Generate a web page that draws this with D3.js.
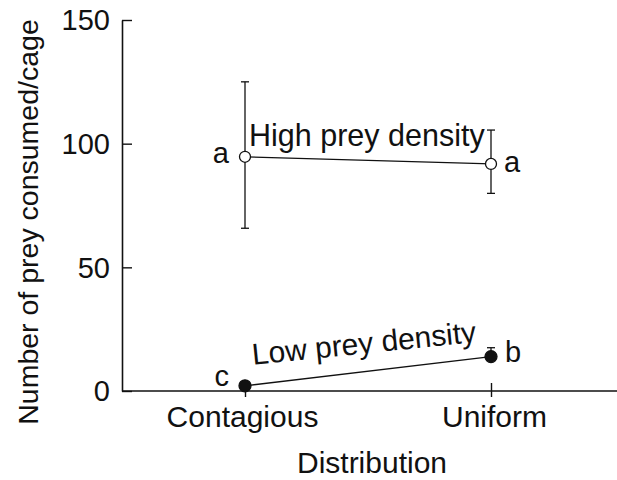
<!DOCTYPE html>
<html>
<head>
<meta charset="utf-8">
<script src="https://cdn.jsdelivr.net/npm/d3@7"></script>
<style>
  body { margin: 0; background: #fff; }
  svg { display: block; }
  text { font-family: "Liberation Sans", Arial, Helvetica, sans-serif; fill: #111; }
</style>
</head>
<body>
<script>
var distributions = ["Contagious", "Uniform"];
var yTicks = [0, 50, 100, 150];

// high prey density (open circles)
var highMean = [94.7, 91.8];
var highUpper = [125, 105.5];
var highLower = [65.8, 79.9];
var highLetters = ["a", "a"];

// low prey density (filled circles), only the upper bar shows
var lowMean = [2.1, 13.9];
var lowUpper = [2.6, 17.5];
var lowLower = [2.1, 13.9];
var lowLetters = ["c", "b"];

var w = 617, h = 480;
var plotLeft = 122, plotTop = 20, plotBottom = 391;

var svg = d3.select("body").append("svg")
    .attr("width", w)
    .attr("height", h);

var x = d3.scalePoint()
    .domain(distributions)
    .range([plotLeft, 614])
    .padding(0.5);

var y = d3.scaleLinear()
    .domain([0, 150])
    .range([plotBottom, plotTop]);

// y axis, ticks pointing into the plot
var yAxis = svg.append("g")
    .attr("transform", "translate(" + plotLeft + ",0)")
    .call(d3.axisLeft(y).tickValues(yTicks).tickSizeInner(-10).tickSizeOuter(0).tickPadding(12));
yAxis.select(".domain").attr("stroke", "#111").attr("stroke-width", 1.6);
yAxis.selectAll(".tick line").attr("stroke", "#111").attr("stroke-width", 1.4);
yAxis.selectAll(".tick text")
    .attr("font-size", 29)
    .attr("dy", "0.34em")
    .style("fill", "#111");

// x axis
var xAxis = svg.append("g")
    .attr("transform", "translate(0," + plotBottom + ")")
    .call(d3.axisBottom(x).tickSizeInner(6).tickSizeOuter(0).tickPadding(12));
xAxis.select(".domain")
    .attr("d", "M" + plotLeft + ",0H" + w)
    .attr("stroke", "#111").attr("stroke-width", 1.6);
xAxis.selectAll(".tick line").attr("y1", -8).attr("stroke", "#111").attr("stroke-width", 1.4);
xAxis.selectAll(".tick text")
    .attr("font-size", 30)
    .attr("y", 36)
    .attr("dy", 0)
    .attr("dx", function (d, i) { return i === 0 ? -3 : 3; })
    .style("fill", "#111");

// axis titles
svg.append("text")
    .attr("transform", "translate(38," + 222 + ") rotate(-90)")
    .attr("text-anchor", "middle")
    .attr("font-size", 28.5)
    .text("Number of prey consumed/cage");

svg.append("text")
    .attr("x", 372)
    .attr("y", 473)
    .attr("text-anchor", "middle")
    .attr("font-size", 30)
    .text("Distribution");

function series(mean, upper, lower, filled) {
    var pts = distributions.map(function (d, i) {
        return { key: d, m: mean[i], hi: upper[i], lo: lower[i] };
    });
    var g = svg.append("g");

    g.append("path")
        .datum(pts)
        .attr("fill", "none")
        .attr("stroke", "#111")
        .attr("stroke-width", 1.3)
        .attr("d", d3.line()
            .x(function (d) { return x(d.key); })
            .y(function (d) { return y(d.m); }));

    var eb = g.selectAll(".err")
        .data(pts)
        .enter().append("g");
    eb.append("line")
        .attr("x1", function (d) { return x(d.key); })
        .attr("x2", function (d) { return x(d.key); })
        .attr("y1", function (d) { return y(d.hi); })
        .attr("y2", function (d) { return y(d.lo); })
        .attr("stroke", "#111").attr("stroke-width", 1.3);
    ["hi", "lo"].forEach(function (k) {
        eb.append("line")
            .attr("x1", function (d) { return x(d.key) - 4; })
            .attr("x2", function (d) { return x(d.key) + 4; })
            .attr("y1", function (d) { return y(d[k]); })
            .attr("y2", function (d) { return y(d[k]); })
            .attr("stroke", "#111").attr("stroke-width", 1.3);
    });

    g.selectAll("circle")
        .data(pts)
        .enter().append("circle")
        .attr("cx", function (d) { return x(d.key); })
        .attr("cy", function (d) { return y(d.m); })
        .attr("r", filled ? 6 : 5.5)
        .attr("fill", filled ? "#111" : "#fff")
        .attr("stroke", "#111")
        .attr("stroke-width", 1.3);
    return pts;
}

series(highMean, highUpper, highLower, false);
series(lowMean, lowUpper, lowLower, true);

// significance letters
function letter(txt, key, val, dx, dy, anchor) {
    svg.append("text")
        .attr("x", x(key) + dx)
        .attr("y", y(val) + dy)
        .attr("text-anchor", anchor)
        .attr("font-size", 29)
        .text(txt);
}
letter(highLetters[0], distributions[0], highMean[0], -16, 6, "end");
letter(highLetters[1], distributions[1], highMean[1], 13, 8, "start");
letter(lowLetters[0], distributions[0], lowMean[0], -16, 0, "end");
letter(lowLetters[1], distributions[1], lowMean[1], 14, 5, "start");

// series labels
svg.append("text")
    .attr("x", x(distributions[0]) + 4)
    .attr("y", y(highMean[0]) - 11)
    .attr("font-size", 30.5)
    .text("High prey density");

var ang = Math.atan2(y(lowMean[1]) - y(lowMean[0]), x(distributions[1]) - x(distributions[0])) * 180 / Math.PI;
svg.append("text")
    .attr("transform", "translate(" + (x(distributions[0]) + 8) + "," + (y(lowMean[0]) - 21) + ") rotate(" + (ang * 0.86) + ")")
    .attr("font-size", 30)
    .text("Low prey density");
</script>
</body>
</html>
